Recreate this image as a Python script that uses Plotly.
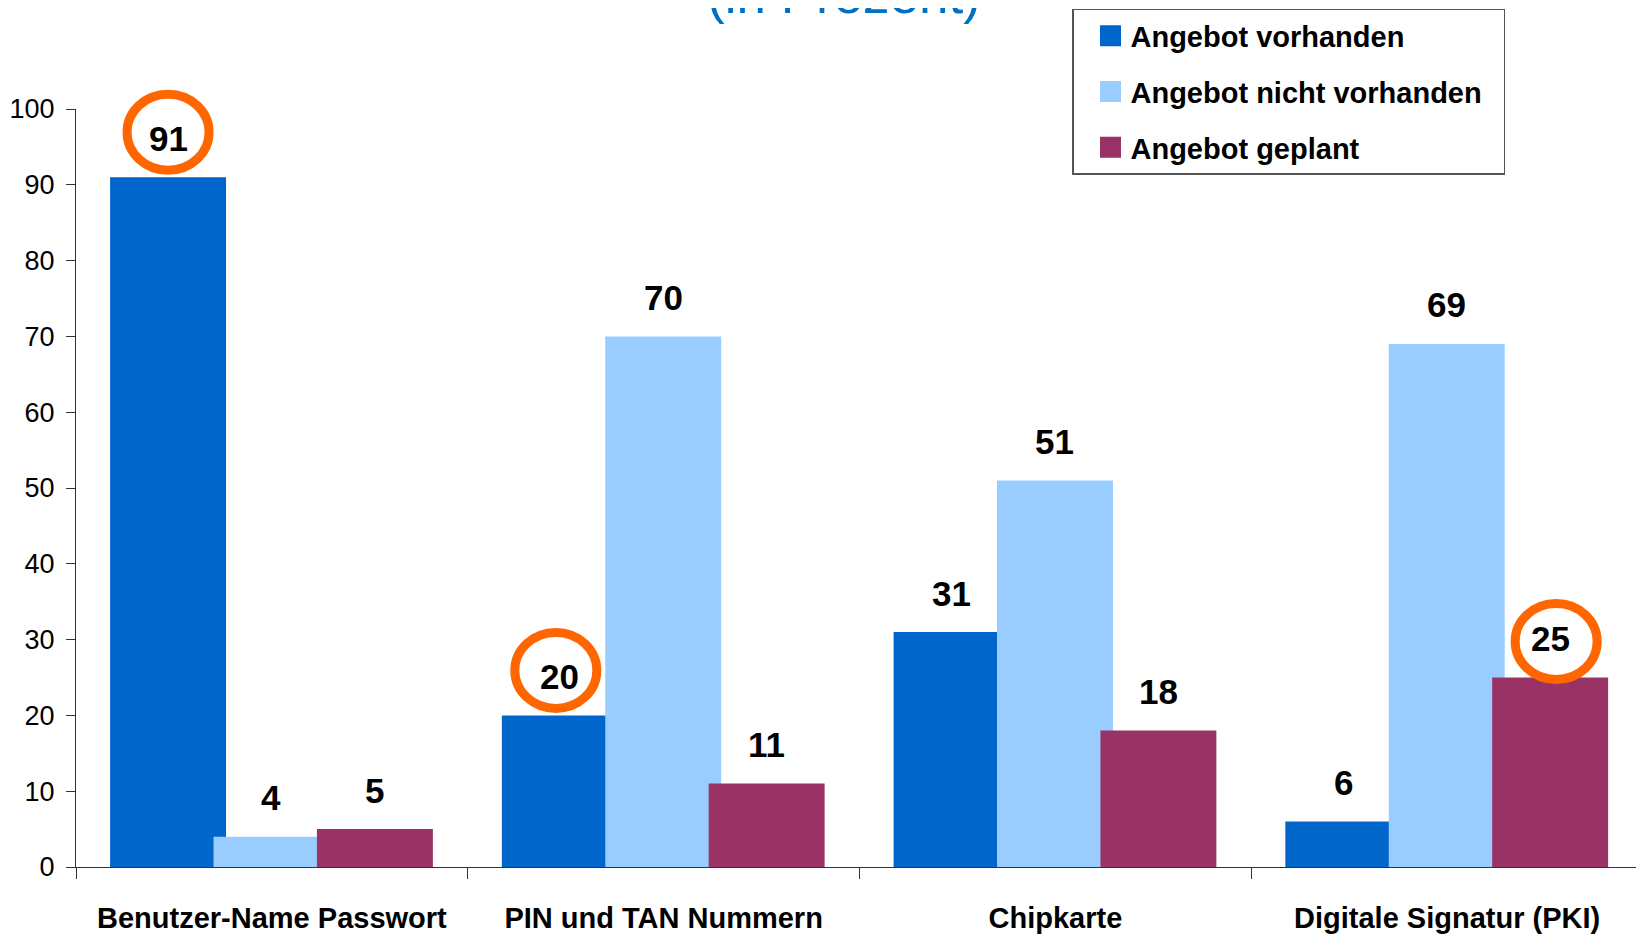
import plotly.graph_objects as go

categories = ["Benutzer-Name Passwort", "PIN und TAN Nummern", "Chipkarte", "Digitale Signatur (PKI)"]
series_names = ["Angebot vorhanden", "Angebot nicht vorhanden", "Angebot geplant"]
vorhanden = [91, 20, 31, 6]
nicht_vorhanden = [4, 70, 51, 69]
geplant = [5, 11, 18, 25]
y_ticks = [0, 10, 20, 30, 40, 50, 60, 70, 80, 90, 100]
highlighted = [(0, 0), (0, 1), (2, 3)]  # (series index, category index)

Y_MAX = 100
series_values = [vorhanden, nicht_vorhanden, geplant]
colors = ["#0066CC", "#99CCFF", "#993366"]
bar_width = 0.296
offsets = [-0.413, -0.149, 0.115]
circle_shift = [(0, 45), (-4, 45), (6, 36)]  # hand-drawn circle offsets (px)
FONT = "Liberation Sans, Arial, sans-serif"

fig = go.Figure()
for name, vals, col, off in zip(series_names, series_values, colors, offsets):
    fig.add_trace(go.Bar(
        x=categories, y=vals, name=name, marker=dict(color=col, line=dict(width=0)),
        width=bar_width, offset=off, showlegend=False, hoverinfo="x+y+name"))

# legend entries (square swatches)
for i, (name, col) in enumerate(zip(series_names, colors)):
    label = name + ("\u00a0\u00a0" if name == "Angebot nicht vorhanden" else "")
    fig.add_trace(go.Scatter(
        x=[None], y=[None], mode="markers", name=label, legendgroup=f"g{i}",
        marker=dict(symbol="square", size=16, color=col, line=dict(color=col, width=5))))

annotations = []
for s, (vals, off) in enumerate(zip(series_values, offsets)):
    for i, v in enumerate(vals):
        annotations.append(dict(
            x=i + off + bar_width / 2, y=v, xref="x", yref="y", text=f"<b>{v}</b>",
            showarrow=False, yanchor="middle", yshift=39,
            font=dict(family=FONT, size=35, color="black")))

annotations.append(dict(
    x=0.490, y=1.1097, xref="paper", yref="paper", text="(in Prozent)",
    showarrow=False, yanchor="bottom", xanchor="center",
    font=dict(family=FONT, size=53, color="#0070C0")))

shapes = []
for (s, i), (dx, dy) in zip(highlighted, circle_shift):
    shapes.append(dict(
        type="circle", xref="x", yref="paper", xsizemode="pixel", ysizemode="pixel",
        xanchor=i + offsets[s] + bar_width / 2, yanchor=series_values[s][i] / Y_MAX,
        x0=dx - 41, x1=dx + 41, y0=dy - 38, y1=dy + 38,
        line=dict(color="#FF6600", width=9)))

fig.update_layout(
    width=1636, height=928,
    margin=dict(l=68, r=1, t=99, b=69),
    paper_bgcolor="white", plot_bgcolor="white",
    barmode="overlay",
    annotations=annotations, shapes=shapes,
    showlegend=True,
    legend=dict(
        x=(1072 - 76) / 1567, y=(867.3 - 7) / 760, xanchor="left", yanchor="top",
        bgcolor="white", bordercolor="#555555", borderwidth=1.5, indentation=17,
        font=dict(family=FONT, size=29, color="black", weight="bold"),
        traceorder="grouped", tracegroupgap=15),
    xaxis=dict(
        type="category", range=[-0.5, 3.5], tickson="boundaries",
        ticks="outside", ticklen=11, tickcolor="#333333", tickwidth=1,
        showline=True, linecolor="#333333", linewidth=1, showgrid=False,
        tickfont=dict(family=FONT, size=29, color="black", weight="bold"),
        ticklabelstandoff=25, fixedrange=True),
    yaxis=dict(
        range=[0, Y_MAX], tickvals=y_ticks, ticks="outside", ticklen=9,
        tickcolor="#333333", tickwidth=1, showline=True, linecolor="#333333",
        linewidth=1, showgrid=False, zeroline=False,
        tickfont=dict(family=FONT, size=27, color="black"),
        ticklabelstandoff=6, fixedrange=True),
)

fig.write_html("out.html")
